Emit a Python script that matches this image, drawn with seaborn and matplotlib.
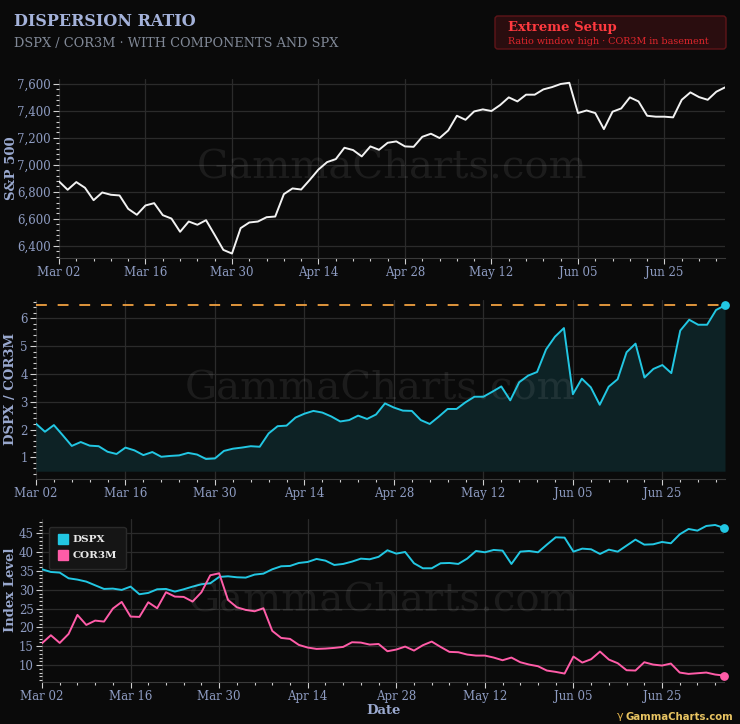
import numpy as np
import pandas as pd
import matplotlib
matplotlib.use("Agg")
import matplotlib.pyplot as plt
import seaborn as sns
from matplotlib.patches import FancyBboxPatch
from matplotlib.lines import Line2D
from matplotlib.ticker import MultipleLocator, FuncFormatter

# ---------------- data ----------------
tick_labels = ["Mar 02", "Mar 16", "Mar 30", "Apr 14", "Apr 28", "May 12", "Jun 05", "Jun 25"]

spx = [6877, 6815, 6872, 6830, 6738, 6795, 6778, 6773, 6674, 6630,
       6699, 6716, 6627, 6602, 6504, 6580, 6556, 6590, 6481, 6370,
       6343, 6531, 6573, 6580, 6612, 6617, 6783, 6825, 6817, 6889,
       6965, 7020, 7042, 7126, 7109, 7062, 7136, 7111, 7163, 7173,
       7136, 7133, 7207, 7230, 7198, 7254, 7363, 7333, 7395, 7410,
       7398, 7442, 7499, 7469, 7519, 7519, 7558, 7575, 7598, 7607,
       7383, 7402, 7383, 7264, 7393, 7417, 7499, 7469, 7363, 7356,
       7356, 7351, 7481, 7536, 7501, 7481, 7541, 7573]

ratio = [2.21, 1.92, 2.16, 1.79, 1.41, 1.55, 1.42, 1.40, 1.20, 1.12,
         1.35, 1.25, 1.08, 1.19, 1.02, 1.05, 1.07, 1.16, 1.10, 0.94,
         0.96, 1.23, 1.31, 1.35, 1.40, 1.38, 1.86, 2.12, 2.14, 2.43,
         2.57, 2.67, 2.61, 2.47, 2.29, 2.34, 2.50, 2.38, 2.54, 2.94,
         2.79, 2.68, 2.67, 2.34, 2.20, 2.46, 2.74, 2.74, 2.98, 3.18,
         3.18, 3.36, 3.55, 3.05, 3.70, 3.94, 4.07, 4.88, 5.34, 5.65,
         3.27, 3.83, 3.52, 2.89, 3.54, 3.81, 4.78, 5.09, 3.87, 4.18,
         4.32, 4.03, 5.56, 5.95, 5.77, 5.77, 6.30, 6.47]

dspx = [35.44, 34.73, 34.56, 33.05, 32.70, 32.17, 31.19, 30.22, 30.31, 29.96,
        30.84, 28.81, 29.16, 30.13, 30.22, 29.51, 30.13, 30.84, 31.46, 31.73,
        33.41, 33.58, 33.32, 33.23, 34.03, 34.29, 35.44, 36.24, 36.33, 37.12,
        37.39, 38.19, 37.74, 36.59, 36.86, 37.48, 38.27, 38.10, 38.75, 40.49,
        39.60, 40.04, 37.04, 35.71, 35.71, 37.04, 37.12, 36.86, 38.27, 40.31,
        39.96, 40.58, 40.40, 36.86, 40.13, 40.31, 39.96, 41.99, 43.94, 43.85,
        40.13, 40.93, 40.75, 39.51, 40.66, 40.13, 41.73, 43.32, 41.99, 42.08,
        42.70, 42.35, 44.73, 46.15, 45.71, 46.95, 47.21, 46.42]

cor3m = [15.80, 17.92, 15.88, 18.27, 23.32, 20.66, 21.81, 21.55, 25.00, 26.77,
         22.88, 22.79, 26.68, 25.09, 29.34, 28.19, 28.10, 26.86, 29.34, 33.85,
         34.38, 27.30, 25.35, 24.65, 24.29, 25.09, 19.07, 17.21, 16.95, 15.35,
         14.65, 14.29, 14.38, 14.56, 14.82, 16.06, 15.97, 15.44, 15.60, 13.67,
         14.12, 14.91, 13.85, 15.27, 16.24, 14.82, 13.50, 13.41, 12.79, 12.52,
         12.52, 11.99, 11.28, 11.99, 10.75, 10.13, 9.69, 8.54, 8.19, 7.74,
         12.26, 10.66, 11.55, 13.58, 11.46, 10.49, 8.63, 8.54, 10.75, 10.13,
         9.87, 10.40, 8.01, 7.65, 7.83, 8.01, 7.48, 7.21]

window_high = 6.47

n = len(spx)
df = pd.DataFrame({"idx": np.arange(n), "spx": spx, "ratio": ratio,
                   "dspx": dspx, "cor3m": cor3m})

# ---------------- style ----------------
BG = "#0a0a0a"
GRID = "#2b2b2b"
TICKC = "#8e9cc2"
LABELC = "#9aa9cf"
CYAN = "#22c7e3"
PINK = "#ff5ca8"

sns.set_theme(style="dark")
plt.rcParams["font.family"] = ["DejaVu Serif", "DejaVu Sans"]
plt.rcParams["axes.facecolor"] = BG
plt.rcParams["figure.facecolor"] = BG

W, H = 740, 724
fig = plt.figure(figsize=(W / 100, H / 100), dpi=100)


def px_axes(l, t, r, b):
    return fig.add_axes([l / W, 1 - b / H, (r - l) / W, (b - t) / H])


def style_axes(ax, ymajor, yminor, fmt=None):
    ax.set_facecolor(BG)
    ax.set_xlim(0, n - 1)
    ax.set_xticks(np.arange(0, n, 10)[:len(tick_labels)])
    ax.set_xticklabels(tick_labels)
    ax.xaxis.set_minor_locator(MultipleLocator(2))
    ax.yaxis.set_major_locator(MultipleLocator(ymajor))
    ax.yaxis.set_minor_locator(MultipleLocator(yminor))
    if fmt:
        ax.yaxis.set_major_formatter(FuncFormatter(fmt))
    ax.grid(True, which="major", color=GRID, linewidth=0.9)
    ax.grid(False, which="minor")
    for s in ["top", "right", "left"]:
        ax.spines[s].set_visible(False)
    ax.spines["bottom"].set_color("#3a3a3a")
    ax.spines["bottom"].set_linewidth(0.8)
    ax.tick_params(axis="both", which="major", colors="#d0d0d0", labelcolor=TICKC,
                   labelsize=8.5, length=4, width=0.8, direction="out", pad=2,
                   left=True, bottom=True)
    ax.tick_params(axis="both", which="minor", colors="#d0d0d0", length=2,
                   width=0.8, direction="out", left=True, bottom=True)
    ax.set_xlabel("")
    ax.set_ylabel("")
    ax.text(0.5, 0.5, "GammaCharts.com", transform=ax.transAxes, ha="center",
            va="center", fontsize=29, color="#ffffff", alpha=0.075, zorder=2,
            family="DejaVu Serif")


# ---- top panel: S&P 500 ----
ax1 = px_axes(59, 79, 725, 258)
sns.lineplot(data=df, x="idx", y="spx", ax=ax1, color="#f2f2f2", linewidth=1.4)
ax1.set_ylim(6310, 7635)
style_axes(ax1, 200, 40, lambda v, p: f"{int(v):,}")

# ---- middle panel: ratio ----
ax2 = px_axes(36, 300, 725, 479)
ax2.fill_between(df["idx"], 0.5, df["ratio"], color="#0d2225", zorder=1, linewidth=0)
sns.lineplot(data=df, x="idx", y="ratio", ax=ax2, color=CYAN, linewidth=1.4, zorder=3)
ax2.axhline(window_high, color="#f0a040", linewidth=1.3, dashes=(6, 6), zorder=2)
ax2.scatter([n - 1], [ratio[-1]], s=28, color=CYAN, zorder=4, clip_on=False)
ax2.set_ylim(0.22, 6.66)
style_axes(ax2, 1, 0.2, lambda v, p: f"{int(round(v))}")

# ---- bottom panel: components ----
ax3 = px_axes(42, 519, 724, 682)
sns.lineplot(data=df, x="idx", y="dspx", ax=ax3, color=CYAN, linewidth=1.4)
sns.lineplot(data=df, x="idx", y="cor3m", ax=ax3, color=PINK, linewidth=1.4)
ax3.scatter([n - 1], [dspx[-1]], s=28, color=CYAN, zorder=4, clip_on=False)
ax3.scatter([n - 1], [cor3m[-1]], s=28, color=PINK, zorder=4, clip_on=False)
ax3.set_ylim(5.5, 48.8)
style_axes(ax3, 5, 1, lambda v, p: f"{int(round(v))}")

handles = [Line2D([], [], marker="s", linestyle="none", markersize=7.5,
                  markerfacecolor=CYAN, markeredgecolor=CYAN, label="DSPX"),
           Line2D([], [], marker="s", linestyle="none", markersize=7.5,
                  markerfacecolor=PINK, markeredgecolor=PINK, label="COR3M")]
leg = ax3.legend(handles=handles, loc="upper left", bbox_to_anchor=(0.003, 0.985),
                 frameon=True, fancybox=True, facecolor="#151515",
                 edgecolor="#2a2a2a", framealpha=1, handletextpad=0.45,
                 borderpad=0.8, labelspacing=0.65, handlelength=1.0,
                 prop={"family": "DejaVu Serif", "weight": "bold", "size": 7.5})
for t in leg.get_texts():
    t.set_color("#e8e8e8")

# ---------------- texts ----------------
fig.text(14 / W, 1 - 22 / H, "DISPERSION RATIO", ha="left", va="center",
         fontsize=11.5, fontweight="bold", color="#a4b2da")
fig.text(14 / W, 1 - 44 / H, "DSPX / COR3M · WITH COMPONENTS AND SPX", ha="left",
         va="center", fontsize=9.3, color="#808896")

box = FancyBboxPatch((495 / W, 1 - 49 / H), 231 / W, 33 / H,
                     boxstyle="round,pad=0,rounding_size=0.004",
                     transform=fig.transFigure, facecolor="#2a0d0f",
                     edgecolor="#5e1519", linewidth=1)
fig.patches.append(box)
fig.text(508 / W, 1 - 28 / H, "Extreme Setup", ha="left", va="center",
         fontsize=9.5, fontweight="bold", color="#ff3a3f")
fig.text(508 / W, 1 - 42 / H, "Ratio window high · COR3M in basement", ha="left",
         va="center", fontsize=6.9, color="#e0262c")

fig.text(12 / W, 1 - 168 / H, "S&P 500", rotation=90, ha="center", va="center",
         fontsize=9.5, fontweight="bold", color=LABELC)
fig.text(11 / W, 1 - 389 / H, "DSPX / COR3M", rotation=90, ha="center", va="center",
         fontsize=9.5, fontweight="bold", color=LABELC)
fig.text(11 / W, 1 - 590 / H, "Index Level", rotation=90, ha="center", va="center",
         fontsize=9.5, fontweight="bold", color=LABELC)
fig.text(384 / W, 1 - 711 / H, "Date", ha="center", va="center",
         fontsize=9.5, fontweight="bold", color=LABELC)

fig.text(617 / W, 1 - 716 / H, "γ", ha="left", va="center", fontsize=8,
         color="#e0b24a", family="DejaVu Sans")
fig.text(626 / W, 1 - 717 / H, "GammaCharts.com", ha="left", va="center",
         fontsize=7.3, fontweight="bold", color="#e8c462", family="DejaVu Sans")

fig.savefig("out.png", dpi=100, facecolor=BG)
